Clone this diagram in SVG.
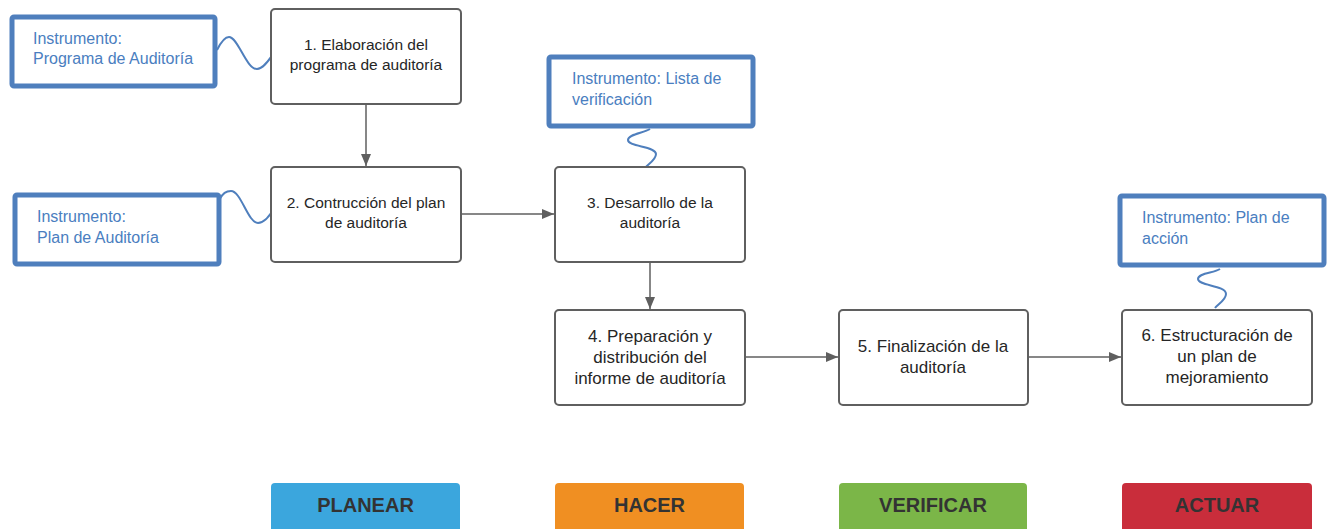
<svg xmlns="http://www.w3.org/2000/svg" width="1329" height="529" viewBox="0 0 1329 529">
<style>
.node{fill:#fff;stroke:#5f5f5f;stroke-width:2}
.inst{fill:#fff;stroke:#4f7fbd;stroke-width:5}
.nt{font-family:"Liberation Sans",Arial,sans-serif;font-size:15.5px;fill:#262626;text-anchor:middle}
.nt2{font-family:"Liberation Sans",Arial,sans-serif;font-size:17px;fill:#262626;text-anchor:middle}
.it{font-family:"Liberation Sans",Arial,sans-serif;font-size:16px;fill:#4a7ec0}
.edge{fill:none;stroke:#5f5f5f;stroke-width:1.5}
.wave{fill:none;stroke:#4f7fbd;stroke-width:2}
.lt{font-family:"Liberation Sans",Arial,sans-serif;font-size:20px;font-weight:bold;fill:#333;text-anchor:middle}
</style>
<defs>
<marker id="arr" viewBox="0 0 12 10" refX="12" refY="5" markerWidth="12" markerHeight="10" markerUnits="userSpaceOnUse" orient="auto">
<path d="M0,0 L12,5 L0,10 Z" fill="#5f5f5f"/>
</marker>
</defs>
<g id="connectors">
<path class="edge" d="M366,104 L366,166" marker-end="url(#arr)"/>
<path class="edge" d="M461,214 L554,214" marker-end="url(#arr)"/>
<path class="edge" d="M650,262 L650,309" marker-end="url(#arr)"/>
<path class="edge" d="M745,357 L838,357" marker-end="url(#arr)"/>
<path class="edge" d="M1028,357 L1121,357" marker-end="url(#arr)"/>
<path class="wave" d="M217,50 C221,42 225,37 229,37 C238,37 246,69 257,69 C264,69 270,58 274,53"/>
<path class="wave" d="M219,200 C223,193 226,191 231,191 C241,191 248,223 258,223 C266,223 271,212 276,207"/>
<path class="wave" d="M650,129 C644,133 628,134 628,140 C628,147 656,146 656,154 C656,160 648,164 645,168"/>
<path class="wave" d="M1220,269 C1214,273 1198,273 1198,279 C1198,286 1226,285 1226,294 C1226,300 1218,304 1215,308"/>
</g>
<g id="node1"><rect class="node" x="271" y="9" width="190" height="95" rx="4"/>
<text class="nt" x="366" y="50">1. Elaboración del</text><text class="nt" x="366" y="70">programa de auditoría</text></g>
<g id="node2"><rect class="node" x="271" y="167" width="190" height="95" rx="4"/>
<text class="nt" x="366" y="208">2. Contrucción del plan</text><text class="nt" x="366" y="228">de auditoría</text></g>
<g id="node3"><rect class="node" x="555" y="167" width="190" height="95" rx="4"/>
<text class="nt" x="650" y="208">3. Desarrollo de la</text><text class="nt" x="650" y="228">auditoría</text></g>
<g id="node4"><rect class="node" x="555" y="310" width="190" height="95" rx="4"/>
<text class="nt2" x="650" y="342">4. Preparación y</text><text class="nt2" x="650" y="363">distribución del</text><text class="nt2" x="650" y="384">informe de auditoría</text></g>
<g id="node5"><rect class="node" x="839" y="310" width="189" height="95" rx="4"/>
<text class="nt2" x="933" y="352">5. Finalización de la</text><text class="nt2" x="933" y="373">auditoría</text></g>
<g id="node6"><rect class="node" x="1122" y="310" width="190" height="95" rx="4"/>
<text class="nt2" x="1217" y="341">6. Estructuración de</text><text class="nt2" x="1217" y="362">un plan de</text><text class="nt2" x="1217" y="383">mejoramiento</text></g>
<g id="inst1"><rect class="inst" x="12" y="17" width="203" height="69" rx="2"/>
<text class="it" x="33" y="44">Instrumento:</text><text class="it" x="33" y="64">Programa de Auditoría</text></g>
<g id="inst2"><rect class="inst" x="15" y="195" width="204" height="69" rx="2"/>
<text class="it" x="37" y="222">Instrumento:</text><text class="it" x="37" y="243">Plan de Auditoría</text></g>
<g id="inst3"><rect class="inst" x="549" y="57" width="204" height="69" rx="2"/>
<text class="it" x="572" y="84">Instrumento: Lista de</text><text class="it" x="572" y="105">verificación</text></g>
<g id="inst6"><rect class="inst" x="1120" y="196" width="204" height="69" rx="2"/>
<text class="it" x="1142" y="223">Instrumento: Plan de</text><text class="it" x="1142" y="244">acción</text></g>
<g id="planear"><rect x="271" y="483" width="189" height="60" rx="4" fill="#3ba6dd"/><text class="lt" x="365.5" y="512">PLANEAR</text></g>
<g id="hacer"><rect x="555" y="483" width="189" height="60" rx="4" fill="#f08f22"/><text class="lt" x="649.5" y="512">HACER</text></g>
<g id="verificar"><rect x="839" y="483" width="188" height="60" rx="4" fill="#7bb648"/><text class="lt" x="933" y="512">VERIFICAR</text></g>
<g id="actuar"><rect x="1122" y="483" width="190" height="60" rx="4" fill="#c92d3b"/><text class="lt" x="1217" y="512">ACTUAR</text></g>
</svg>
